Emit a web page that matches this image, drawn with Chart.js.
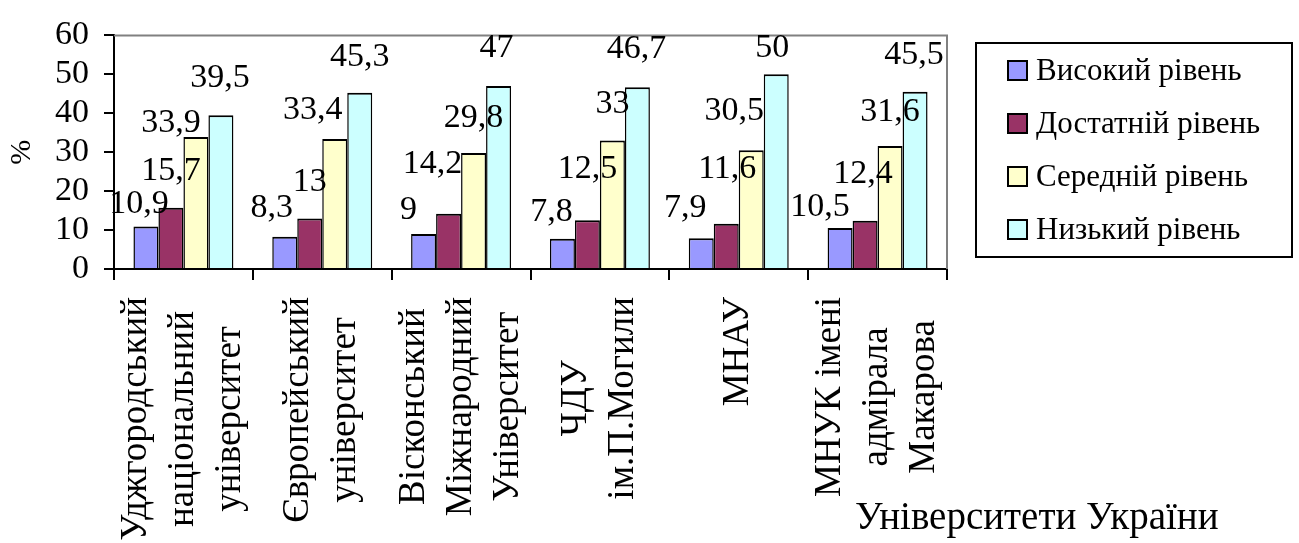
<!DOCTYPE html>
<html>
<head>
<meta charset="utf-8">
<script src="https://cdn.jsdelivr.net/npm/chart.js@4.4.1/dist/chart.umd.min.js"></script>
<style>
  html, body { margin: 0; padding: 0; background: #fff; }
  #wrap { width: 1299px; height: 543px; }
</style>
</head>
<body>
<div id="wrap"><canvas id="chart" width="1299" height="543"></canvas></div>
<script>
// categories (one array of lines per university)
const universities = [
  ['Уджгородський', 'національний', 'університет'],
  ['Європейський', 'університет'],
  ['Вісконський', 'Міжнародний', 'Університет'],
  ['ЧДУ', 'ім.П.Могили'],
  ['МНАУ'],
  ['МНУК імені', 'адмірала', 'Макарова']
];

const levelNames = ['Високий рівень', 'Достатній рівень', 'Середній рівень', 'Низький рівень'];

// % of students per level
const highLevel       = [10.9, 8.3, 9, 7.8, 7.9, 10.5];
const sufficientLevel = [15.7, 13, 14.2, 12.5, 11.6, 12.4];
const averageLevel    = [33.9, 33.4, 29.8, 33, 30.5, 31.6];
const lowLevel        = [39.5, 45.3, 47, 46.7, 50, 45.5];

const yMin = 0, yMax = 60, yStep = 10;
const xAxisTitle = 'Університети України';
const yAxisTitle = '%';

const levelColors = ['#9999FF', '#993366', '#FFFFCC', '#CCFFFF'];

// hand placement of value labels: [dx, dy] from the bar's top centre
const labelShift = [
  [[-7, -22], [-13, -29], [-15, -24], [-11, -27], [-16, -30], [-20, -21]],
  [[0, -37], [0, -36], [-16, -50], [0, -51], [1, -55], [-2, -47]],
  [[-25, -14], [-22, -29], [0, -35], [0, -36], [-17, -39], [0, -34]],
  [[-1, -37], [0, -36], [-2, -38], [-1, -38], [-4, -26], [-1, -37]]
];

const FONT = "'Liberation Serif', 'Times New Roman', serif";
Chart.defaults.font.family = FONT;
Chart.defaults.color = '#000';

const fmt = v => String(v).replace('.', ',');

// gray frame on top/right of the plot area
const plotFrame = {
  id: 'plotFrame',
  beforeDatasetsDraw(chart) {
    const { ctx, chartArea: a } = chart;
    ctx.save();
    ctx.strokeStyle = '#808080';
    ctx.lineWidth = 2;
    ctx.beginPath();
    ctx.moveTo(a.left, a.top);
    ctx.lineTo(a.right, a.top);
    ctx.lineTo(a.right, a.bottom);
    ctx.stroke();
    ctx.restore();
  }
};

const valueLabels = {
  id: 'valueLabels',
  afterDatasetsDraw(chart) {
    const ctx = chart.ctx;
    ctx.save();
    ctx.font = '34px ' + FONT;
    ctx.fillStyle = '#000';
    ctx.textAlign = 'center';
    ctx.textBaseline = 'middle';
    chart.data.datasets.forEach((ds, si) => {
      chart.getDatasetMeta(si).data.forEach((bar, i) => {
        const [dx, dy] = labelShift[si][i];
        ctx.fillText(fmt(ds.data[i]), bar.x + dx, bar.y + dy);
      });
    });
    ctx.restore();
  }
};

// rotated, wrapped university names + axis title
const categoryLabels = {
  id: 'categoryLabels',
  afterDraw(chart) {
    const ctx = chart.ctx;
    const xs = chart.scales.x;
    const top = xs.top + 28;
    const lineGap = 47;
    ctx.save();
    ctx.font = '37px ' + FONT;
    ctx.fillStyle = '#000';
    ctx.textAlign = 'center';
    ctx.textBaseline = 'middle';
    chart.data.labels.forEach((lines, i) => {
      const cx = xs.getPixelForValue(i);
      const longest = Math.max(...lines.map(l => ctx.measureText(l).width));
      const cy = top + longest / 2;
      lines.forEach((line, j) => {
        ctx.save();
        ctx.translate(cx + (j - (lines.length - 1) / 2) * lineGap, cy);
        ctx.rotate(-Math.PI / 2);
        ctx.fillText(line, 0, 0);
        ctx.restore();
      });
    });
    ctx.font = '39px ' + FONT;
    ctx.textAlign = 'left';
    ctx.textBaseline = 'alphabetic';
    ctx.fillText(xAxisTitle, 855, 529);
    ctx.restore();
  }
};

const boxedLegend = {
  id: 'boxedLegend',
  afterDraw(chart) {
    const ctx = chart.ctx;
    const box = { x: 976, y: 43, w: 316, h: 214 };
    ctx.save();
    ctx.strokeStyle = '#000';
    ctx.lineWidth = 2;
    ctx.strokeRect(box.x, box.y, box.w, box.h);
    ctx.font = '31px ' + FONT;
    ctx.textBaseline = 'middle';
    chart.data.datasets.forEach((ds, i) => {
      const cy = 71 + i * 53;
      ctx.fillStyle = ds.backgroundColor;
      ctx.fillRect(1008, cy - 10, 19, 19);
      ctx.strokeRect(1008, cy - 10, 19, 19);
      ctx.fillStyle = '#000';
      ctx.fillText(ds.label, 1036, cy + 1);
    });
    ctx.restore();
  }
};

const series = [highLevel, sufficientLevel, averageLevel, lowLevel];

new Chart(document.getElementById('chart'), {
  type: 'bar',
  data: {
    labels: universities,
    datasets: series.map((values, i) => ({
      label: levelNames[i],
      data: values,
      backgroundColor: levelColors[i],
      borderColor: '#000',
      borderWidth: { top: 2, left: 1.5, right: 1.5, bottom: 0 },
      borderSkipped: 'start',
      categoryPercentage: 0.72,
      barPercentage: 1.0
    }))
  },
  options: {
    responsive: false,
    animation: false,
    devicePixelRatio: 1,
    layout: { padding: { top: 30, right: 352, bottom: 0, left: 0 } },
    plugins: {
      legend: { display: false },
      tooltip: { enabled: false }
    },
    scales: {
      x: {
        ticks: { display: false },
        grid: { drawOnChartArea: false, offset: true, tickLength: 11, color: '#000', lineWidth: 2 },
        border: { color: '#000', width: 2 },
        afterFit(scale) { scale.height = 274; }
      },
      y: {
        min: yMin,
        max: yMax,
        ticks: { stepSize: yStep, autoSkip: false, padding: 15, color: '#000', font: { size: 34 } },
        grid: { drawOnChartArea: false, tickLength: 10, color: '#000', lineWidth: 2 },
        border: { color: '#000', width: 2 },
        title: { display: true, text: yAxisTitle, color: '#000', font: { size: 30 }, padding: { top: 4, bottom: 4 } },
        afterFit(scale) { scale.width = 114; }
      }
    }
  },
  plugins: [plotFrame, valueLabels, categoryLabels, boxedLegend]
});
</script>
</body>
</html>
